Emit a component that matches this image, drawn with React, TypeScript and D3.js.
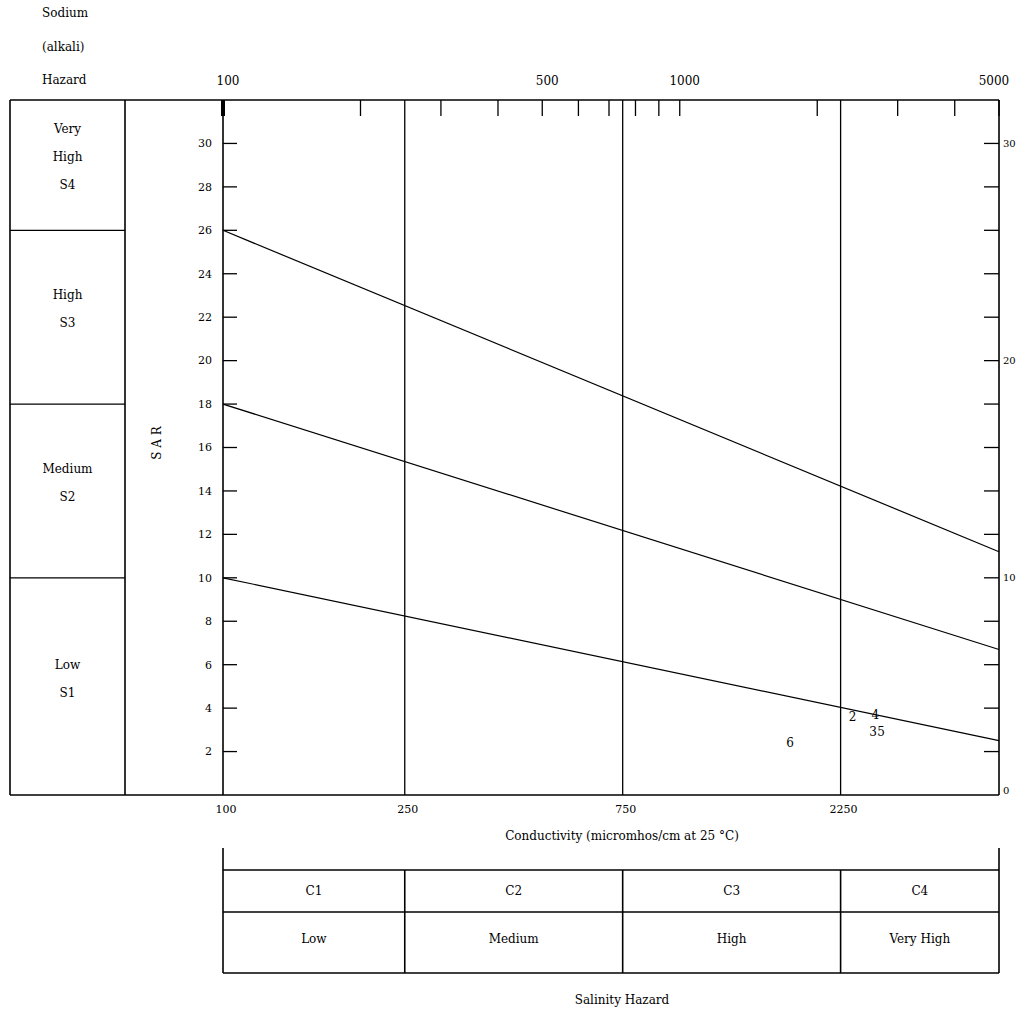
import * as React from "react";
import * as d3 from "d3";

// top axis (conductivity, log scale)
const topLabels = [100, 500, 1000, 5000];
const topMinorTicks = [100, 200, 300, 400, 500, 600, 700, 800, 900, 1000, 2000, 3000, 4000, 5000];
const classBreaks = [250, 750, 2250];
const bottomLabels = [100, 250, 750, 2250];

// SAR axis
const sarTicks = [2, 4, 6, 8, 10, 12, 14, 16, 18, 20, 22, 24, 26, 28, 30];
const rightLabels = [0, 10, 20, 30];

// boundary lines between sodium classes: SAR at 100 and at 5000 micromhos
const boundaryNames = ["S4/S3", "S3/S2", "S2/S1"];
const boundaryAt100 = [26, 18, 10];
const boundaryAt5000 = [11.2, 6.7, 2.5];

// samples (number, conductivity, SAR)
const sampleIds = ["2", "4", "3", "5", "6"];
const sampleEC = [2390, 2680, 2650, 2760, 1745];
const sampleSAR = [3.6, 3.7, 2.9, 2.9, 2.4];

// sodium hazard classes (left panel)
const sodiumLabels = [["Very", "High", "S4"], ["High", "S3"], ["Medium", "S2"], ["Low", "S1"]];
const sodiumBounds = [32, 26, 18, 10, 0];

// salinity hazard classes (bottom table)
const salinityCodes = ["C1", "C2", "C3", "C4"];
const salinityNames = ["Low", "Medium", "High", "Very High"];
const salinityBounds = [100, 250, 750, 2250, 5000];

const W = 1021;
const H = 1012;
const FONT = "DejaVu Serif, serif";

export default function App() {
  const x = d3.scaleLog().domain([100, 5000]).range([223, 999]);
  const y = d3.scaleLinear().domain([0, 32]).range([795, 100]);

  const leftX = 10;
  const panelX = 125;
  const top = y(32);
  const bottom = y(0);
  const right = x(5000);

  const line = d3
    .line<[number, number]>()
    .x((d) => x(d[0]))
    .y((d) => y(d[1]));

  const ts = { fontFamily: FONT, fontSize: 12, fill: "#000" } as React.CSSProperties;

  // table rows
  const tStub = 848;
  const tRow1 = 870;
  const tRow2 = 912;
  const tRow3 = 973;

  return (
    <svg
      width={W}
      height={H}
      style={{ position: "absolute", left: 0, top: 0, background: "#fff" }}
    >
      {/* Sodium hazard title */}
      {["Sodium", "(alkali)", "Hazard"].map((t, i) => (
        <text key={t} x={42} y={13 + i * 33.5} dy="0.35em" style={ts}>
          {t}
        </text>
      ))}

      {/* top tick labels */}
      {topLabels.map((v, i) => (
        <text
          key={"tl" + v}
          x={i === topLabels.length - 1 ? x(v) - 5 : x(v) + 5}
          y={81}
          dy="0.35em"
          textAnchor="middle"
          style={ts}
        >
          {v}
        </text>
      ))}

      {/* outer frame */}
      <line x1={leftX} x2={right} y1={top} y2={top} stroke="#000" strokeWidth={1.6} />
      <line x1={leftX} x2={right} y1={bottom} y2={bottom} stroke="#000" strokeWidth={1.6} />
      <line x1={leftX} x2={leftX} y1={top} y2={bottom} stroke="#000" strokeWidth={1.6} />
      <line x1={panelX} x2={panelX} y1={top} y2={bottom} stroke="#000" strokeWidth={1.6} />
      <line x1={right} x2={right} y1={top} y2={bottom} stroke="#000" strokeWidth={1.6} />
      <line x1={x(100)} x2={x(100)} y1={top} y2={bottom} stroke="#000" strokeWidth={1.6} />

      {/* left panel separators and labels */}
      {boundaryAt100.map((s) => (
        <line key={"sep" + s} x1={leftX} x2={panelX} y1={y(s)} y2={y(s)} stroke="#000" strokeWidth={1.3} />
      ))}
      {sodiumLabels.map((lines, i) => {
        const cy = (y(sodiumBounds[i]) + y(sodiumBounds[i + 1])) / 2 - 8;
        const y0 = cy - ((lines.length - 1) * 28) / 2;
        return lines.map((t, j) => (
          <text
            key={"sl" + i + j}
            x={(leftX + panelX) / 2}
            y={y0 + j * 28}
            dy="0.35em"
            textAnchor="middle"
            style={ts}
          >
            {t}
          </text>
        ));
      })}

      {/* top minor ticks */}
      {topMinorTicks.map((v) => (
        <line
          key={"mt" + v}
          x1={x(v)}
          x2={x(v)}
          y1={top}
          y2={top + 16}
          stroke="#000"
          strokeWidth={v === 100 ? 4 : 1.3}
        />
      ))}

      {/* class break verticals */}
      {classBreaks.map((v) => (
        <line key={"cb" + v} x1={x(v)} x2={x(v)} y1={top} y2={bottom} stroke="#000" strokeWidth={1.3} />
      ))}

      {/* left SAR ticks and labels */}
      {sarTicks.map((s) => (
        <g key={"ls" + s}>
          <line x1={x(100)} x2={x(100) + 14} y1={y(s)} y2={y(s)} stroke="#000" strokeWidth={1.3} />
          <text x={212} y={y(s)} dy="0.35em" textAnchor="end" style={{ ...ts, fontSize: 11 }}>
            {s}
          </text>
        </g>
      ))}

      {/* right ticks and labels */}
      {sarTicks.map((s) => (
        <line key={"rs" + s} x1={right - 15} x2={right} y1={y(s)} y2={y(s)} stroke="#000" strokeWidth={1.3} />
      ))}
      {rightLabels.map((s) => (
        <text key={"rl" + s} x={right + 4} y={y(s) - (s === 0 ? 5 : 0)} dy="0.35em" style={{ ...ts, fontSize: 10 }}>
          {s}
        </text>
      ))}

      {/* SAR title */}
      <text
        transform={`translate(157,443) rotate(-90)`}
        dy="0.35em"
        textAnchor="middle"
        style={ts}
      >
        S A R
      </text>

      {/* boundary lines */}
      {boundaryNames.map((n, i) => (
        <path
          key={n}
          d={line([
            [100, boundaryAt100[i]],
            [5000, boundaryAt5000[i]],
          ]) as string}
          fill="none"
          stroke="#000"
          strokeWidth={1.2}
        />
      ))}

      {/* samples */}
      {sampleIds.map((id, i) => (
        <text
          key={"sp" + id}
          x={x(sampleEC[i])}
          y={y(sampleSAR[i])}
          dy="0.35em"
          textAnchor="middle"
          style={ts}
        >
          {id}
        </text>
      ))}

      {/* bottom tick labels */}
      {bottomLabels.map((v) => (
        <text key={"bl" + v} x={x(v) + 3} y={809} dy="0.35em" textAnchor="middle" style={{ ...ts, fontSize: 11 }}>
          {v}
        </text>
      ))}

      <text x={622} y={836} dy="0.35em" textAnchor="middle" style={ts}>
        Conductivity (micromhos/cm at 25 °C)
      </text>

      {/* salinity table */}
      <line x1={x(100)} x2={x(100)} y1={tStub} y2={tRow3} stroke="#000" strokeWidth={1.6} />
      <line x1={right} x2={right} y1={tStub} y2={tRow3} stroke="#000" strokeWidth={1.6} />
      {[tRow1, tRow2, tRow3].map((ry) => (
        <line key={"tr" + ry} x1={x(100)} x2={right} y1={ry} y2={ry} stroke="#000" strokeWidth={1.6} />
      ))}
      {classBreaks.map((v) => (
        <line key={"tc" + v} x1={x(v)} x2={x(v)} y1={tRow1} y2={tRow3} stroke="#000" strokeWidth={1.6} />
      ))}
      {salinityCodes.map((c, i) => {
        const cx = (x(salinityBounds[i]) + x(salinityBounds[i + 1])) / 2;
        return (
          <g key={c}>
            <text x={cx} y={(tRow1 + tRow2) / 2} dy="0.35em" textAnchor="middle" style={ts}>
              {c}
            </text>
            <text x={cx} y={939} dy="0.35em" textAnchor="middle" style={ts}>
              {salinityNames[i]}
            </text>
          </g>
        );
      })}

      <text x={622} y={1000} dy="0.35em" textAnchor="middle" style={ts}>
        Salinity Hazard
      </text>
    </svg>
  );
}
